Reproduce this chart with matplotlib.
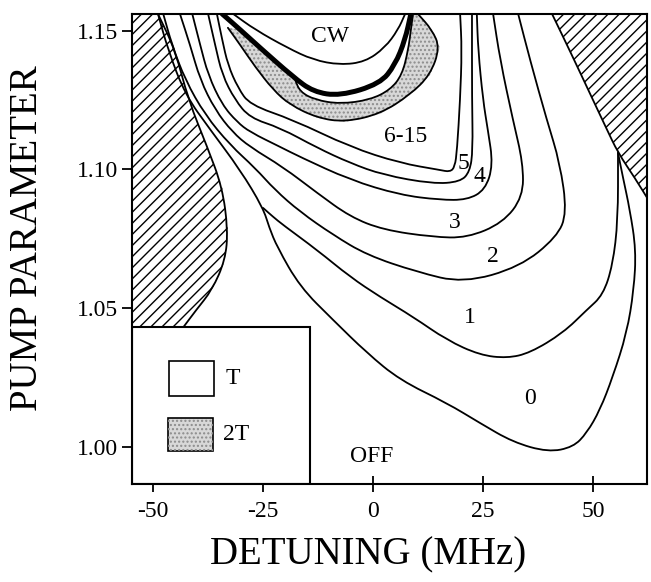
import numpy as np
import matplotlib.pyplot as plt
from matplotlib.patches import Rectangle, PathPatch
from matplotlib.path import Path

plt.rcParams['font.family'] = ['Liberation Serif', 'DejaVu Serif']
plt.rcParams['hatch.linewidth'] = 1.0

# boundaries between regions of equal pulse count, (detuning MHz, pump parameter)
# the OFF|0 and 0|1 edges leave the top edge together and split lower down
trunk = np.array([(-48.9, 1.1561), (-46.6, 1.1431), (-42.7, 1.1269), (-37.0, 1.1143),
                  (-30.2, 1.0998), (-25.0, 1.0861)])
edge_off_0 = np.array([(-23.6, 1.0790), (-21.8, 1.0720), (-16.6, 1.0576), (-9.1, 1.0457),
                       (-1.4, 1.0338), (6.1, 1.0240), (16.8, 1.0157), (24.3, 1.0085),
                       (31.8, 1.0016), (39.8, 0.9980), (45.5, 0.9998), (48.6, 1.0049),
                       (51.6, 1.0132), (54.5, 1.0251), (57.7, 1.0410), (59.3, 1.0565),
                       (59.8, 1.0709), (58.4, 1.0854), (56.8, 1.0973), (55.7, 1.1060)])
edge_0_1 = np.array([(-22.8, 1.0830), (-20.5, 1.0800), (-12.7, 1.0709), (-5.2, 1.0612),
                     (1.6, 1.0540), (9.1, 1.0468), (16.8, 1.0384), (24.3, 1.0330),
                     (30.5, 1.0319), (35.7, 1.0338), (43.2, 1.0410), (48.6, 1.0493),
                     (52.3, 1.0547), (54.5, 1.0655), (55.7, 1.0818), (55.7, 1.1060)])
edge_1_2 = np.array([(-47.7, 1.1561), (-45.7, 1.1449), (-42.7, 1.1323), (-38.2, 1.1197),
                     (-32.5, 1.1088), (-26.8, 1.1005), (-22.3, 1.0926), (-16.6, 1.0847),
                     (-9.1, 1.0764), (-1.4, 1.0691), (10.0, 1.0630), (20.5, 1.0590),
                     (33.4, 1.0648), (41.8, 1.0756), (44.1, 1.0843), (42.5, 1.1023),
                     (39.5, 1.1179), (35.7, 1.1395), (33.0, 1.1561)])
edge_2_3 = np.array([(-43.9, 1.1561), (-41.6, 1.1449), (-39.3, 1.1323), (-35.9, 1.1215),
                     (-32.0, 1.1135), (-28.0, 1.1081), (-20.5, 1.1009), (-12.7, 1.0915),
                     (-5.2, 1.0829), (2.3, 1.0782), (13.6, 1.0756), (21.4, 1.0753),
                     (29.5, 1.0807), (34.1, 1.0901), (34.1, 1.1023), (31.8, 1.1179),
                     (28.9, 1.1395), (27.3, 1.1561)])
edge_3_4 = np.array([(-41.1, 1.1561), (-39.3, 1.1449), (-37.5, 1.1341), (-34.3, 1.1233),
                     (-30.9, 1.1171), (-28.0, 1.1135), (-21.1, 1.1081), (-16.6, 1.1045),
                     (-5.2, 1.0962), (6.1, 1.0908), (15.2, 1.0890), (21.4, 1.0890),
                     (25.5, 1.0926), (27.3, 1.1016), (26.1, 1.1143), (25.0, 1.1251),
                     (23.9, 1.1431), (23.6, 1.1561)])
edge_4_5 = np.array([(-37.5, 1.1561), (-35.9, 1.1449), (-34.3, 1.1341), (-31.4, 1.1251),
                     (-28.0, 1.1186), (-21.1, 1.1150), (-12.7, 1.1078), (-5.2, 1.1023),
                     (2.3, 1.0980), (13.6, 1.0948), (19.8, 1.0955), (22.0, 1.0991),
                     (22.7, 1.1070), (22.5, 1.1251), (22.5, 1.1561)])
edge_5_6 = np.array([(-35.5, 1.1561), (-34.3, 1.1468), (-33.0, 1.1377), (-30.7, 1.1294),
                     (-28.0, 1.1233), (-18.2, 1.1179), (-5.2, 1.1081), (6.1, 1.1023),
                     (15.2, 1.0998), (17.5, 1.0991), (18.6, 1.1009), (19.1, 1.1070),
                     (19.8, 1.1251), (20.2, 1.1431), (19.8, 1.1561)])

# period-doubled (2T) band
band_outer = np.array([(-33.0, 1.1511), (-30.2, 1.1449), (-26.8, 1.1370), (-22.7, 1.1287),
                       (-18.9, 1.1233), (-12.7, 1.1186), (-6.4, 1.1171), (1.6, 1.1200),
                       (8.4, 1.1269), (13.0, 1.1341), (15.2, 1.1439), (13.4, 1.1504),
                       (10.2, 1.1561)])
band_inner = np.array([(-17.7, 1.1323), (-16.6, 1.1280), (-13.2, 1.1251), (-7.5, 1.1236),
                       (-0.7, 1.1251), (3.9, 1.1287), (6.6, 1.1341), (8.0, 1.1431),
                       (8.6, 1.1504), (9.1, 1.1561)])
thick_edge = np.array([(-34.3, 1.1561), (-30.2, 1.1504), (-25.7, 1.1439), (-18.2, 1.1334),
                       (-13.6, 1.1280), (-7.5, 1.1265), (1.6, 1.1309), (5.0, 1.1377),
                       (7.3, 1.1468), (8.6, 1.1561)])
cw_edge = np.array([(-31.8, 1.1561), (-26.8, 1.1504), (-19.5, 1.1439), (-13.6, 1.1395),
                    (-7.5, 1.1377), (-1.8, 1.1388), (2.7, 1.1439), (5.7, 1.1504),
                    (7.3, 1.1561)])

# hatched (inaccessible) regions
hatch_left = np.array([(-48.9, 1.1561), (-45.0, 1.1431), (-42.0, 1.1251), (-37.7, 1.1081),
                       (-34.3, 1.0937), (-33.0, 1.0782), (-33.6, 1.0673), (-36.6, 1.0565),
                       (-40.2, 1.0493), (-43.4, 1.0425)])
hatch_right = np.array([(40.7, 1.1561), (45.2, 1.1413), (50.0, 1.1251), (53.0, 1.1150),
                        (55.7, 1.1060), (59.5, 1.0970), (63.0, 1.0880)])

region_labels = ['CW', '6-15', '5', '4', '3', '2', '1', '0', 'OFF']
label_det = [-9.8, 7.3, 20.5, 24.1, 18.6, 27.3, 22.0, 35.7, -0.2]
label_pump = [1.1478, 1.1117, 1.1023, 1.0973, 1.0810, 1.0684, 1.0464, 1.0175, 0.9965]

x_ticks = [-50, -25, 0, 25, 50]
y_ticks = [1.00, 1.05, 1.10, 1.15]
XLIM = (-54.8, 62.3)
YLIM = (0.9865, 1.1561)


def smooth_path(pts):
    # quadratic bezier through the midpoints, anchored at both ends
    verts = [pts[0], (pts[0] + pts[1]) / 2]
    codes = [Path.MOVETO, Path.LINETO]
    for i in range(1, len(pts) - 1):
        verts += [pts[i], (pts[i] + pts[i + 1]) / 2]
        codes += [Path.CURVE3, Path.CURVE3]
    verts.append(pts[-1])
    codes.append(Path.LINETO)
    return Path(verts, codes)


def draw_edge(ax, pts, lw=1.3, z=3):
    ax.add_patch(PathPatch(smooth_path(pts), fill=False, edgecolor='black', lw=lw,
                           joinstyle='round', capstyle='round', zorder=z))


fig = plt.figure(figsize=(6.51, 5.82), dpi=100)
ax = fig.add_axes([0.2028, 0.1684, 0.7911, 0.8077])
ax.set_xlim(*XLIM)
ax.set_ylim(*YLIM)

# hatched areas
left_poly = np.vstack([[(-70, 1.17), (hatch_left[0, 0], 1.17)], hatch_left,
                       [(-70, hatch_left[-1, 1])]])
ax.fill(left_poly[:, 0], left_poly[:, 1], facecolor='white', edgecolor='black',
        hatch='///', linewidth=0, zorder=1)
right_poly = np.vstack([[(hatch_right[0, 0], 1.17)], hatch_right,
                        [(80, hatch_right[-1, 1]), (80, 1.17)]])
ax.fill(right_poly[:, 0], right_poly[:, 1], facecolor='white', edgecolor='black',
        hatch='///', linewidth=0, zorder=1)
draw_edge(ax, hatch_left)
draw_edge(ax, hatch_right)

# stippled 2T band
band_poly = np.vstack([band_outer, band_inner[::-1], thick_edge[3::-1][:3]])
ax.fill(band_poly[:, 0], band_poly[:, 1], facecolor='#d8d8d8', edgecolor='#8c8c8c',
        hatch='....', linewidth=0, zorder=2)

for edge in (np.vstack([trunk, edge_off_0]), np.vstack([trunk[-1:], edge_0_1]),
             edge_1_2, edge_2_3, edge_3_4, edge_4_5, edge_5_6,
             band_outer, band_inner, cw_edge):
    draw_edge(ax, edge)
draw_edge(ax, thick_edge, lw=3.6, z=4)

for txt, xd, yd in zip(region_labels, label_det, label_pump):
    ax.text(xd, yd, txt, ha='center', va='center', fontsize=17, zorder=6)

# legend box in the lower left corner
ax.add_patch(Rectangle((XLIM[0], YLIM[0]), -14.3 - XLIM[0], 1.0431 - YLIM[0],
                       facecolor='white', edgecolor='black', lw=1.5, zorder=5))
ax.add_patch(Rectangle((-46.4, 1.0182), 10.3, 0.0127, facecolor='white',
                       edgecolor='black', lw=1.2, zorder=6))
ax.add_patch(Rectangle((-46.6, 0.9984), 10.2, 0.0119, facecolor='#d8d8d8',
                       edgecolor='black', lw=1.2, zorder=6))
ax.add_patch(Rectangle((-46.6, 0.9984), 10.2, 0.0119, facecolor='none',
                       edgecolor='#8c8c8c', hatch='....', lw=0, zorder=6))
ax.text(-33.6, 1.0247, 'T', ha='left', va='center', fontsize=17, zorder=7)
ax.text(-34.2, 1.0043, '2T', ha='left', va='center', fontsize=17, zorder=7)

ax.set_xticks(x_ticks)
ax.set_xticklabels([f'{t}' for t in x_ticks])
ax.set_yticks(y_ticks)
ax.set_yticklabels([f'{t:.2f}' for t in y_ticks])
ax.tick_params(axis='x', direction='inout', length=12, width=1.3, labelsize=17, pad=6)
ax.tick_params(axis='y', direction='out', length=7, width=1.3, labelsize=17, pad=3)
for s in ax.spines.values():
    s.set_linewidth(1.5)
    s.set_zorder(8)

fig.text(0.043, 0.59, 'PUMP PARAMETER', rotation=90, ha='center', va='center', fontsize=28)
fig.text(0.566, 0.046, 'DETUNING (MHz)', ha='center', va='center', fontsize=28)

fig.savefig('out.png', dpi=100)
